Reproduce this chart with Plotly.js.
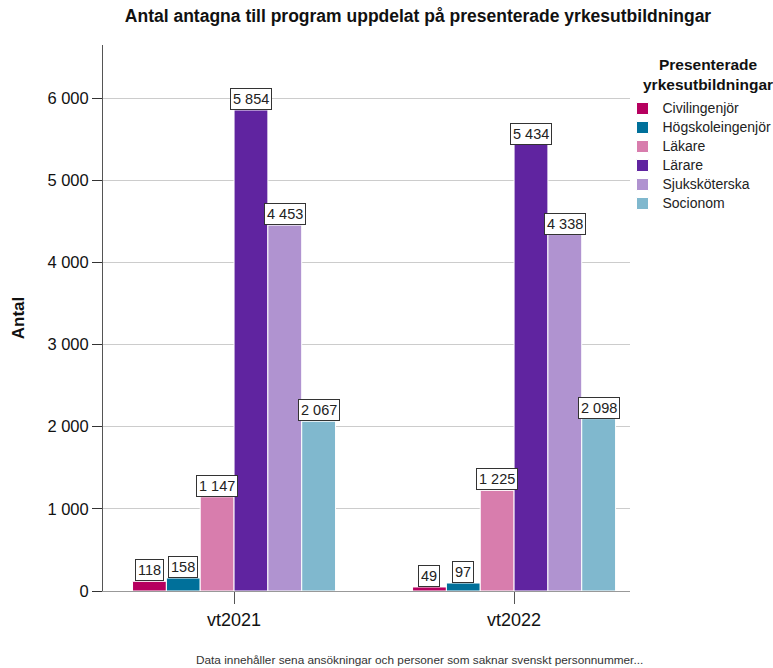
<!DOCTYPE html>
<html>
<head>
<meta charset="utf-8">
<script src="https://cdn.plot.ly/plotly-3.0.1.min.js"></script>
<style>html,body{margin:0;padding:0;background:#fff;}#chart{width:773px;height:668px;}</style>
</head>
<body>
<div id="chart"></div>
<script>
const periods = ["vt2021", "vt2022"];
const programs = ["Civilingenjör", "Högskoleingenjör", "Läkare", "Lärare", "Sjuksköterska", "Socionom"];
const civilingenjor = [118, 49];
const hogskoleingenjor = [158, 97];
const lakare = [1147, 1225];
const larare = [5854, 5434];
const sjukskoterska = [4453, 4338];
const socionom = [2067, 2098];
const colors = ["#B6005F", "#00709A", "#D87DAD", "#6024A0", "#B093D0", "#80B8CE"];
const legendTitle = "Presenterade<br>yrkesutbildningar";

const series = [civilingenjor, hogskoleingenjor, lakare, larare, sjukskoterska, socionom];
const bargap = 0.275;
const xIdx = periods.map((p, i) => i);
const FONT = "Liberation Sans, Arial, sans-serif";

// plot area in pixels (for positioning overlays in paper coords)
const PL = 103, PR = 630, PT = 45, PB = 591;
const px2x = px => (px - PL) / (PR - PL);
const px2y = py => (PB - py) / (PB - PT);

function fmt(v) {
  return String(v).replace(/\B(?=(\d{3})+(?!\d))/g, " ");
}

const traces = series.map((vals, j) => ({
  type: "bar",
  name: '<span style="font-size:14px">' + programs[j] + '</span>',
  x: xIdx,
  y: vals,
  marker: { color: colors[j], line: { color: "#ffffff", width: 1 } },
  hoverinfo: "skip"
}));

const slot = (1 - bargap) / series.length;
const annotations = [];
series.forEach((vals, j) => {
  vals.forEach((v, i) => {
    annotations.push({
      x: i + (j - (series.length - 1) / 2) * slot,
      y: v,
      xref: "x", yref: "y",
      text: fmt(v),
      showarrow: false,
      xanchor: "center", yanchor: "bottom",
      font: { family: FONT, size: 14.5, color: "#222" },
      bgcolor: "#ffffff",
      bordercolor: "#333333",
      borderwidth: 1,
      borderpad: 2
    });
  });
});
annotations.push({
  xref: "paper", yref: "paper",
  x: px2x(645), y: px2y(660),
  xanchor: "right", yanchor: "middle",
  text: "Data innehåller sena ansökningar och personer som saknar svenskt personnummer...",
  showarrow: false,
  font: { family: FONT, size: 11.8, color: "#333" }
});
annotations.push({
  xref: "paper", yref: "paper",
  x: px2x(708), y: px2y(74),
  xanchor: "center", yanchor: "middle", align: "center",
  text: "<b>" + legendTitle + "</b>",
  showarrow: false,
  font: { family: FONT, size: 15.5, color: "#111" }
});

const layout = {
  width: 773, height: 668,
  margin: { l: PL, r: 773 - PR, t: PT, b: 668 - PB, autoexpand: false },
  paper_bgcolor: "#ffffff", plot_bgcolor: "#ffffff",
  font: { family: FONT, color: "#222" },
  separators: ", ",
  barmode: "group",
  bargap: bargap,
  bargroupgap: 0,
  showlegend: true,
  title: {
    text: "<b>Antal antagna till program uppdelat på presenterade yrkesutbildningar</b>",
    font: { family: FONT, size: 17.5, color: "#111" },
    x: 418 / 773, xanchor: "center", xref: "container",
    y: 1 - 16 / 668, yanchor: "middle", yref: "container"
  },
  xaxis: {
    range: [-0.468, 1.414],
    tickvals: xIdx,
    ticktext: periods,
    ticks: "outside", ticklen: 12, tickcolor: "#555",
    showgrid: false, zeroline: false,
    showline: true, linecolor: "#999", linewidth: 1,
    tickfont: { family: FONT, size: 18, color: "#111" }
  },
  yaxis: {
    range: [0, 6645],
    tickvals: [0, 1000, 2000, 3000, 4000, 5000, 6000],
    tickformat: ",d",
    ticks: "outside", ticklen: 10, tickcolor: "#333",
    showgrid: true, gridcolor: "#cccccc", gridwidth: 1,
    zeroline: false,
    showline: true, linecolor: "#555", linewidth: 1,
    tickfont: { family: FONT, size: 16.5, color: "#111" },
    title: { text: "<b>Antal</b>", font: { family: FONT, size: 17, color: "#111" }, standoff: 18 }
  },
  legend: {
    x: px2x(622.5), xanchor: "left",
    y: px2y(94), yanchor: "top",
    font: { family: FONT, size: 12, color: "#222" },
    itemwidth: 30,
    tracegroupgap: 0,
    bgcolor: "rgba(0,0,0,0)"
  },
  annotations: annotations
};

Plotly.newPlot("chart", traces, layout, { staticPlot: true, displayModeBar: false });
</script>
</body>
</html>
